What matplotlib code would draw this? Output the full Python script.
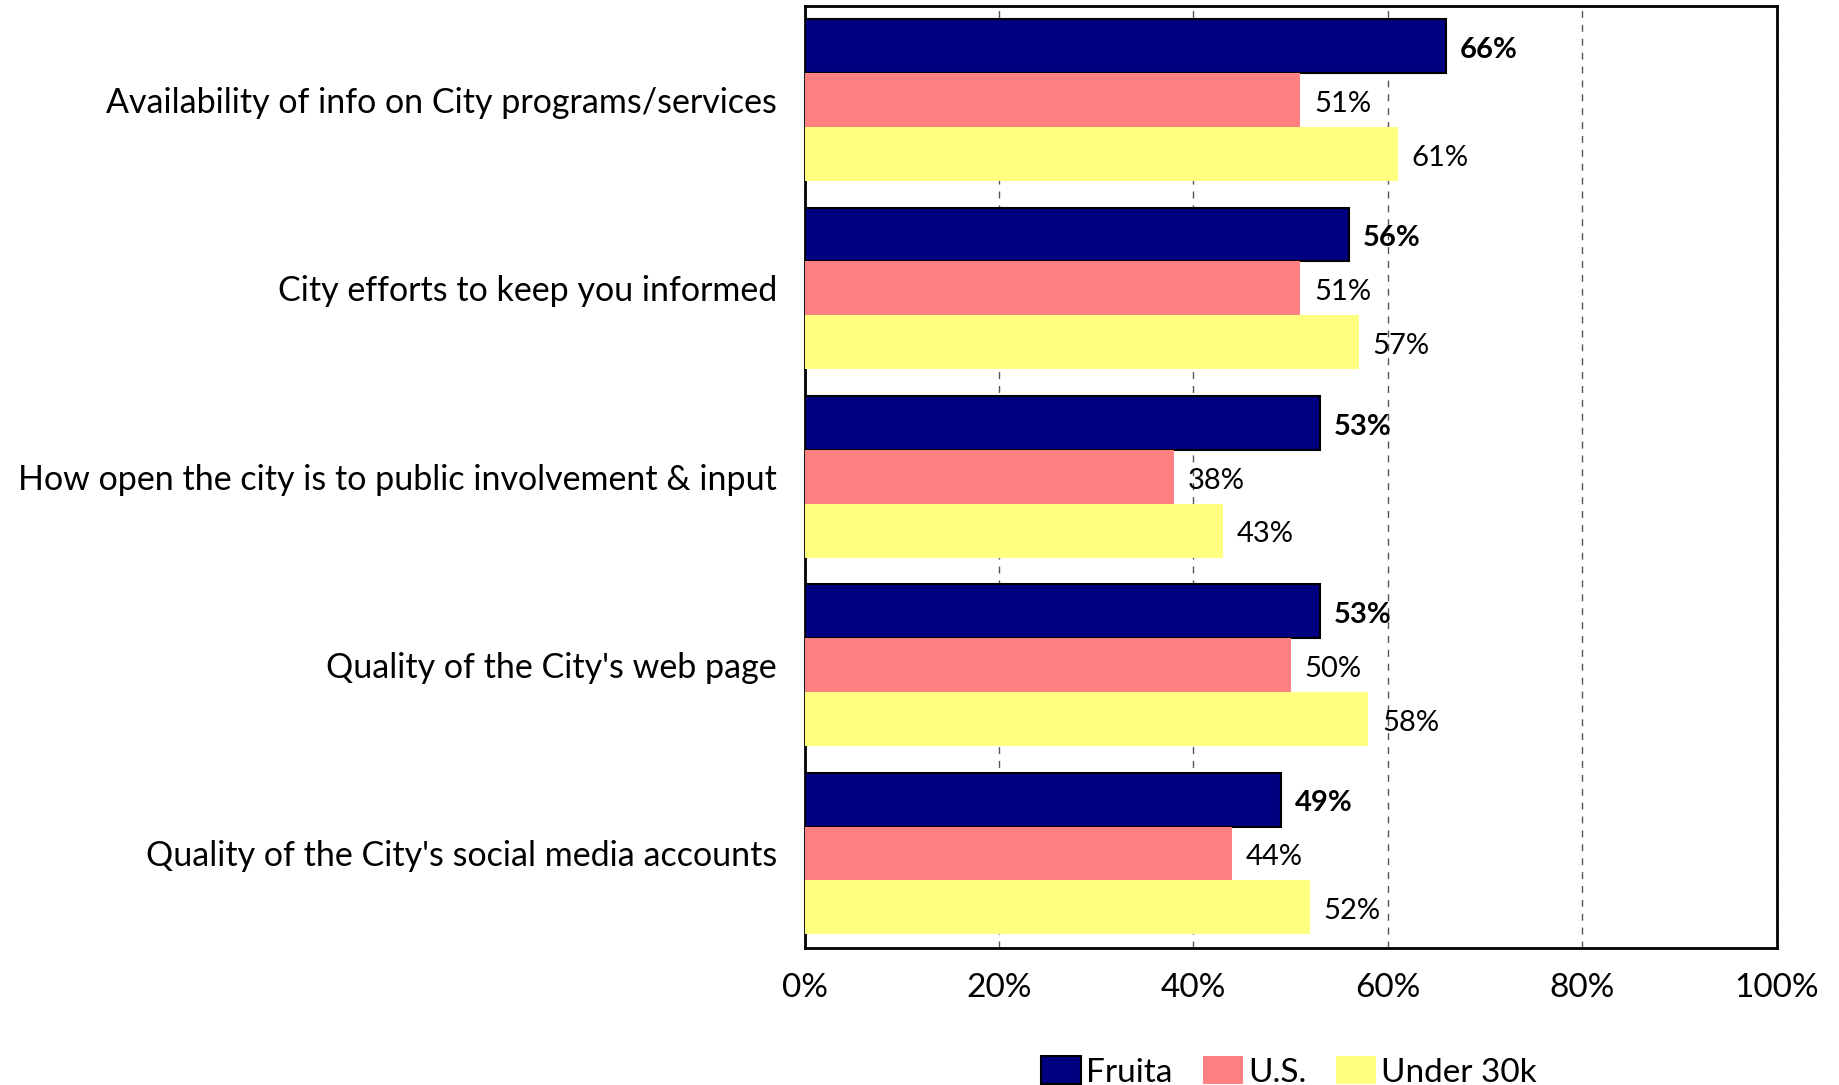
import matplotlib
matplotlib.use("Agg")
import matplotlib.pyplot as plt
import numpy as np
from matplotlib.patches import Patch

categories = [
    "Availability of info on City programs/services",
    "City efforts to keep you informed",
    "How open the city is to public involvement & input",
    "Quality of the City's web page",
    "Quality of the City's social media accounts",
]
series_names = ["Fruita", "U.S.", "Under 30k"]
fruita = [66, 56, 53, 53, 49]
us = [51, 51, 38, 50, 44]
under_30k = [61, 57, 43, 58, 52]
x_ticks = [0, 20, 40, 60, 80, 100]

plt.rcParams["font.family"] = ["Lato", "DejaVu Sans"]

fig = plt.figure(figsize=(18.39, 10.85), dpi=100)
ax = fig.add_axes([0.4375, 0.1266, 0.5287, 0.868])

y = np.arange(len(categories))
height = 0.286
colors = ["#000080", "#FF8080", "#FFFF80"]
edges = ["black", "none", "none"]
values = [fruita, us, under_30k]

for i, (vals, color, edge) in enumerate(zip(values, colors, edges)):
    pos = y + (i - 1) * height
    ax.barh(pos, vals, height=height, color=color, edgecolor=edge,
            linewidth=1.5 if edge != "none" else 0, zorder=3)
    for p, v in zip(pos, vals):
        # nudge a touch down so the digits sit in the bar's middle
        ax.text(v + 1.4, p + 0.02, f"{v}%", va="center", ha="left",
                fontsize=21, fontweight="bold" if i == 0 else "normal",
                zorder=4)

ax.set_xlim(0, 100)
ax.set_ylim(len(categories) - 0.5, -0.5)
ax.set_xticks(x_ticks)
ax.set_xticklabels([f"{t}%" for t in x_ticks], fontsize=24)
ax.set_yticks(y)
ax.set_yticklabels(categories, fontsize=24.5)
ax.tick_params(axis="y", length=0, pad=20)
ax.tick_params(axis="x", length=0, pad=18)
ax.xaxis.grid(True, linestyle=(0, (5, 5)), color="#555555", linewidth=1)
ax.set_axisbelow(True)
for spine in ax.spines.values():
    spine.set_linewidth(2)

handles = [Patch(facecolor=c, edgecolor=e, linewidth=1.5) for c, e in zip(colors, edges)]
fig.legend(handles, series_names, loc="lower center", bbox_to_anchor=(0.701, -0.03),
           ncol=3, frameon=False, fontsize=24, handlelength=1.2, handleheight=0.9,
           handletextpad=0.15, columnspacing=0.9)

fig.savefig("out.png", dpi=100)
